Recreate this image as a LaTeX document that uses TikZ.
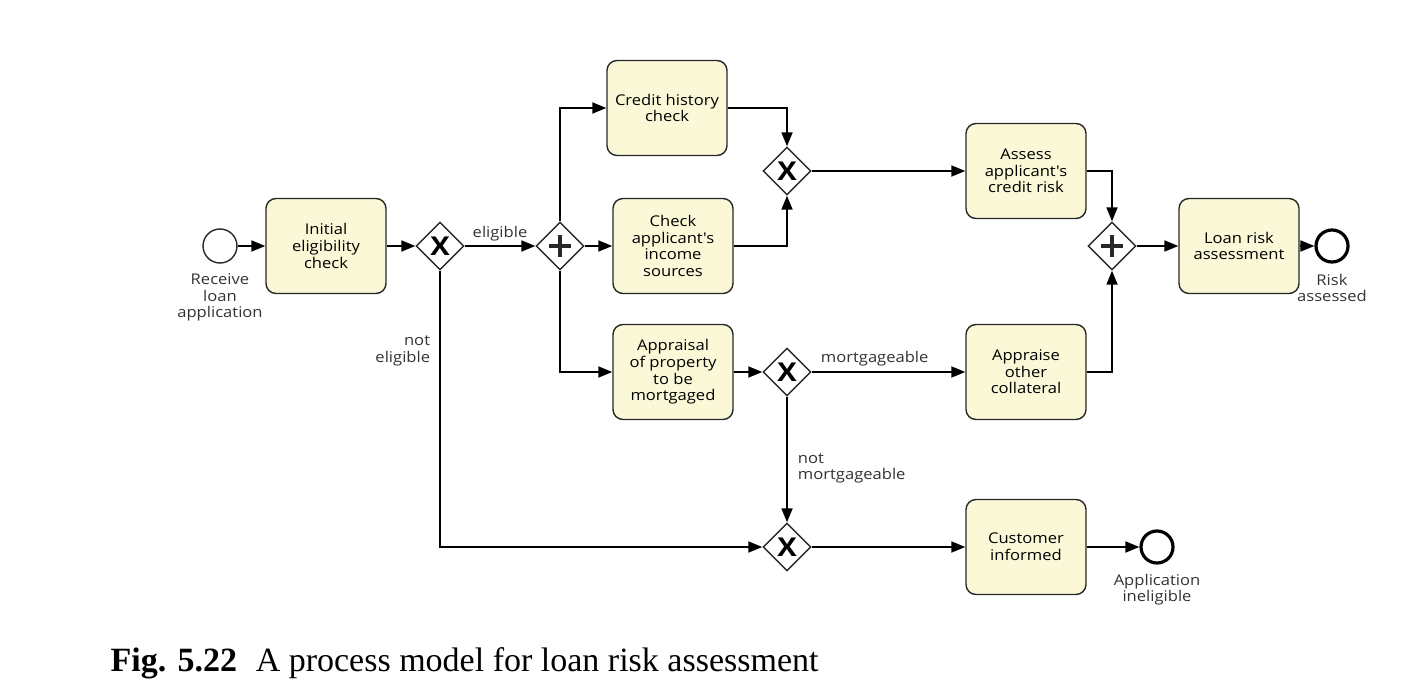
\documentclass[tikz,border=0pt]{standalone}
\usepackage{fontspec}
\setmainfont{Liberation Serif}
\newfontfamily\bpmnfont[FakeStretch=1.12]{Open Sans}
\usetikzlibrary{positioning,shapes.geometric,arrows.meta}
\definecolor{taskfill}{RGB}{250,248,214}
\definecolor{linegray}{RGB}{40,40,40}

\begin{document}
\begin{tikzpicture}[x=1pt,y=-1pt,font=\bpmnfont\fontsize{14.8}{16.6}\selectfont]
	\tikzstyle{task}=[draw=linegray, line width=1.4pt, fill=taskfill, rounded corners=10pt, minimum width=120pt, minimum height=95pt, align=center, inner sep=2pt]
	\tikzstyle{gate}=[diamond, draw=linegray, line width=1.4pt, fill=white, minimum size=48pt, inner sep=0pt]
	\tikzstyle{xgate}=[gate, font=\bpmnfont\bfseries\fontsize{26}{26}\selectfont]
	\tikzstyle{pgate}=[gate, path picture={
		\draw[line width=3.4pt] ([xshift=-11pt]path picture bounding box.center) -- ([xshift=11pt]path picture bounding box.center)
			([yshift=-11pt]path picture bounding box.center) -- ([yshift=11pt]path picture bounding box.center);}]
	\tikzstyle{start}=[circle, draw=linegray, line width=1.4pt, minimum size=34pt, inner sep=0pt]
	\tikzstyle{stop}=[circle, draw=black, line width=3.2pt, minimum size=32pt, inner sep=0pt]
	\tikzstyle{flow}=[line width=1.8pt, draw=black, -{Triangle[length=14pt,width=11pt]}]
	\tikzstyle{lbl}=[align=center, inner sep=0pt, text=black!80]
	\path[fill=white, use as bounding box] (0,0) rectangle (1402,692);
		\node[start] (start) at (220,246) {};
		\node[lbl, below=10pt of start] (startlbl) {Receive\\loan\\application};
		\node[task] (init) at (326,246) {Initial\\eligibility\\check};
		\node[xgate] (gx1) at (440,246) {X};
		\node[pgate] (gand1) at (560,246) {};
		\node[task] (credit) at (667,108) {Credit history\\check};
		\node[task] (income) at (673,246) {Check\\applicant's\\income\\sources};
		\node[xgate] (gxm) at (787,171) {X};
		\node[task] (apprprop) at (673,372) {Appraisal\\of property\\to be\\mortgaged};
		\node[xgate] (gxmort) at (787,372) {X};
		\node[task] (assess) at (1026,171) {Assess\\applicant's\\credit risk};
		\node[task] (collat) at (1026,372) {Appraise\\other\\collateral};
		\node[pgate] (gand2) at (1112,246) {};
		\node[task] (loan) at (1239,246) {Loan risk\\assessment};
		\node[stop] (endrisk) at (1332,246) {};
		\node[lbl, below=10pt of endrisk] (endrisklbl) {Risk\\assessed};
		\node[xgate] (gxinf) at (787,547) {X};
		\node[task] (cust) at (1026,547) {Customer\\informed};
		\node[stop] (endinel) at (1157,547) {};
		\node[lbl, below=9pt of endinel] (endinellbl) {Application\\ineligible};
			\draw[flow] (start) -- (init);
			\draw[flow] (init) -- (gx1);
			\draw[flow] (gx1) -- node[lbl, above=4pt] {eligible} (gand1);
			\draw[flow] (gand1.north) |- (credit);
			\draw[flow] (gand1) -- (income);
			\draw[flow] (gand1.south) |- (apprprop);
			\draw[flow] (credit) -| (gxm);
			\draw[flow] (income) -| (gxm);
			\draw[flow] (gxm) -- (assess);
			\draw[flow] (assess) -| (gand2);
			\draw[flow] (collat) -| (gand2);
			\draw[flow] (gand2) -- (loan);
			\draw[flow] (loan) -- (endrisk);
			\draw[flow] (apprprop) -- (gxmort);
			\draw[flow] (gxmort) -- node[lbl, above=5pt, pos=0.41] {mortgageable} (collat);
			\draw[flow] (gxmort) -- node[lbl, align=left, right=10pt, pos=0.57] {not\\mortgageable} (gxinf);
			\draw[flow] (gx1) |- node[lbl, align=right, left=9pt, pos=0.145] {not\\eligible} (gxinf);
			\draw[flow] (gxinf) -- (cust);
			\draw[flow] (cust) -- (endinel);
		\node[anchor=base west, font=\rmfamily\fontsize{34}{40}\selectfont] (caption) at (107,671) {\textbf{Fig. 5.22}\hspace{0.55em}A process model for loan risk assessment};
\end{tikzpicture}
\end{document}
